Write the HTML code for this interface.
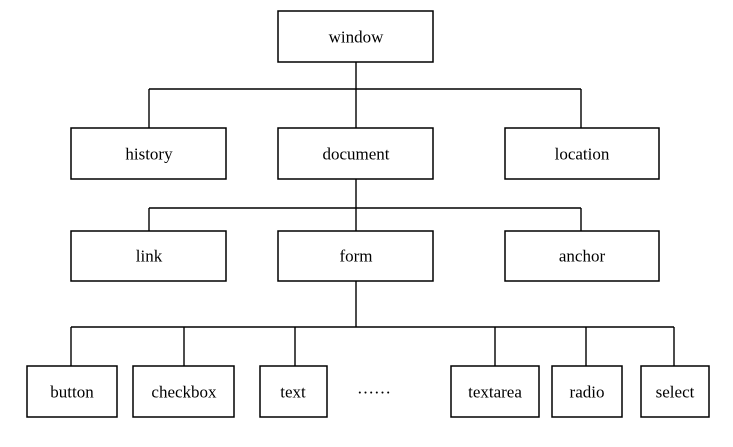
<!DOCTYPE html>
<html><head><meta charset="utf-8"><style>
html,body{margin:0;padding:0;background:#fff;width:733px;height:447px;overflow:hidden}
svg{display:block}
text{font-family:"Liberation Serif",serif;font-size:17px;fill:#000;text-anchor:middle;dominant-baseline:central}
rect{fill:#fff;stroke:#000;stroke-width:1.5}
line{stroke:#000;stroke-width:1.4}
</style></head><body>
<svg width="733" height="447" viewBox="0 0 733 447">
<line x1="356" y1="62" x2="356" y2="128"/>
<line x1="149" y1="89" x2="581" y2="89"/>
<line x1="149" y1="89" x2="149" y2="128"/>
<line x1="581" y1="89" x2="581" y2="128"/>
<line x1="356" y1="179" x2="356" y2="231"/>
<line x1="149" y1="208" x2="581" y2="208"/>
<line x1="149" y1="208" x2="149" y2="231"/>
<line x1="581" y1="208" x2="581" y2="231"/>
<line x1="356" y1="281" x2="356" y2="327"/>
<line x1="71" y1="327" x2="674" y2="327"/>
<line x1="71" y1="327" x2="71" y2="366"/>
<line x1="184" y1="327" x2="184" y2="366"/>
<line x1="295" y1="327" x2="295" y2="366"/>
<line x1="495" y1="327" x2="495" y2="366"/>
<line x1="586" y1="327" x2="586" y2="366"/>
<line x1="674" y1="327" x2="674" y2="366"/>
<rect x="278" y="11" width="155" height="51"/><text x="356" y="37">window</text>
<rect x="71" y="128" width="155" height="51"/><text x="149" y="154">history</text>
<rect x="278" y="128" width="155" height="51"/><text x="356" y="154">document</text>
<rect x="505" y="128" width="154" height="51"/><text x="582" y="154">location</text>
<rect x="71" y="231" width="155" height="50"/><text x="149" y="256">link</text>
<rect x="278" y="231" width="155" height="50"/><text x="356" y="256">form</text>
<rect x="505" y="231" width="154" height="50"/><text x="582" y="256">anchor</text>
<rect x="27" y="366" width="90" height="51"/><text x="72" y="392">button</text>
<rect x="133" y="366" width="101" height="51"/><text x="184" y="392">checkbox</text>
<rect x="260" y="366" width="67" height="51"/><text x="293" y="392">text</text>
<text x="374" y="388">……</text>
<rect x="451" y="366" width="88" height="51"/><text x="495" y="392">textarea</text>
<rect x="552" y="366" width="70" height="51"/><text x="587" y="392">radio</text>
<rect x="641" y="366" width="68" height="51"/><text x="675" y="392">select</text>
</svg>
</body></html>
